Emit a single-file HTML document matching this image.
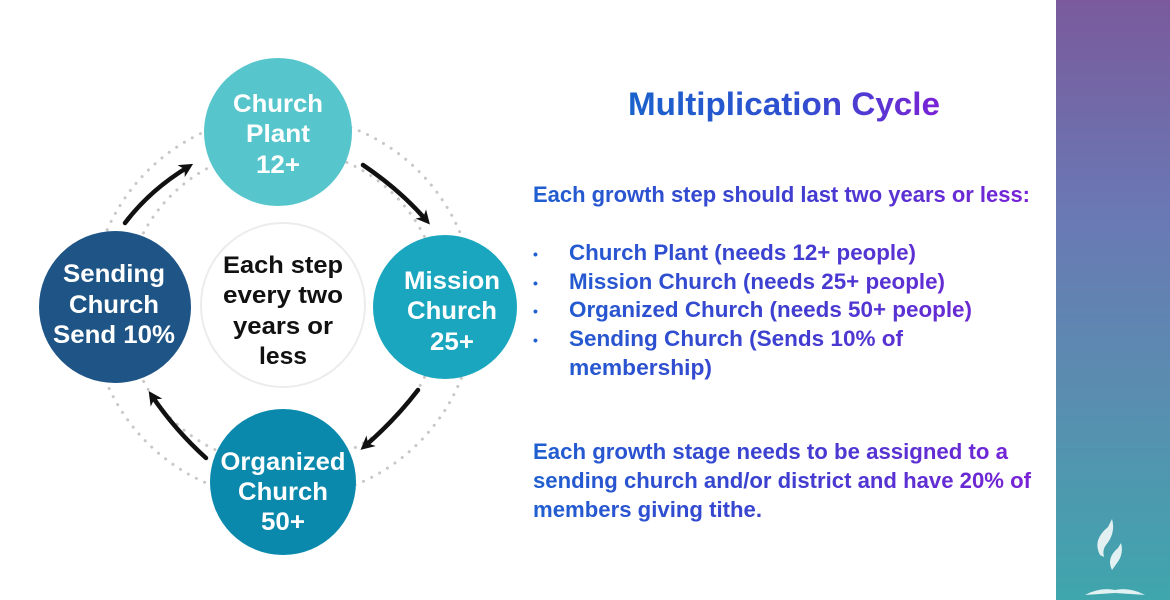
<!DOCTYPE html>
<html><head><meta charset="utf-8"><style>
html,body{margin:0;padding:0;background:#fff;width:1170px;height:600px;overflow:hidden}
svg{display:block}
text{font-family:"Liberation Sans",Arial,sans-serif;font-weight:bold}
</style></head><body>
<svg width="1170" height="600" viewBox="0 0 1170 600" xmlns="http://www.w3.org/2000/svg">
<defs>
<linearGradient id="panel" x1="0" y1="0" x2="0" y2="1">
<stop offset="0" stop-color="#7a5a9c"/><stop offset="0.35" stop-color="#6a78b4"/><stop offset="0.65" stop-color="#5a8db0"/><stop offset="1" stop-color="#3fa6ad"/>
</linearGradient>
<linearGradient id="tg" gradientUnits="userSpaceOnUse" x1="530" y1="0" x2="1035" y2="0">
<stop offset="0" stop-color="#1f60d0"/><stop offset="0.5" stop-color="#3e3fd0"/><stop offset="1" stop-color="#7a22d6"/>
</linearGradient>
<linearGradient id="tt" gradientUnits="userSpaceOnUse" x1="628" y1="0" x2="940" y2="0">
<stop offset="0" stop-color="#1a62cc"/><stop offset="0.55" stop-color="#2f4fd0"/><stop offset="1" stop-color="#7a22d6"/>
</linearGradient>
<marker id="ah" markerWidth="14" markerHeight="14" refX="8" refY="7" orient="auto" markerUnits="userSpaceOnUse">
<path d="M0,0 L14,7 L0,14 L4,7 z" fill="#111"/>
</marker>
</defs>
<rect x="1056" y="0" width="114" height="600" fill="url(#panel)"/>
<g fill="#fff" opacity="0.85">
<path d="M1100,555 q-8,-15 8,-28 l4,-8 q4,14 -6,26 q-4,5 -2,12 z"/>
<path d="M1112,570 q-6,-12 6,-22 l3,-5 q3,11 -4,20 z"/>
<path d="M1085,595 q15,-8 30,-5 q15,-3 30,5 l-30,-2 z"/>
</g>
<circle cx="283" cy="307" r="192" fill="none" stroke="#c8c8c8" stroke-width="3" stroke-dasharray="0.1 9" stroke-linecap="round"/>
<circle cx="283" cy="307" r="158" fill="none" stroke="#c8c8c8" stroke-width="3" stroke-dasharray="0.1 9" stroke-linecap="round"/>
<circle cx="283" cy="305" r="82" fill="#fff" stroke="#ececec" stroke-width="2"/>
<circle cx="278" cy="132" r="74" fill="#56c6cc"/>
<circle cx="445" cy="307" r="72" fill="#1aa6be"/>
<circle cx="283" cy="482" r="73" fill="#0a89ad"/>
<circle cx="115" cy="307" r="76" fill="#1e5586"/>
<g fill="none" stroke="#111" stroke-width="4.5" stroke-linecap="round">
<path d="M125,223 Q150,190 188,167" marker-end="url(#ah)"/>
<path d="M363,165 Q400,190 426,220" marker-end="url(#ah)"/>
<path d="M418,390 Q395,420 365,446" marker-end="url(#ah)"/>
<path d="M206,458 Q175,430 152,396" marker-end="url(#ah)"/>
</g>
<g fill="#fff" font-size="25" text-anchor="middle" lengthAdjust="spacingAndGlyphs">
<text x="278" y="112" textLength="90" lengthAdjust="spacingAndGlyphs">Church</text>
<text x="278" y="142" textLength="64" lengthAdjust="spacingAndGlyphs">Plant</text>
<text x="278" y="173" textLength="44" lengthAdjust="spacingAndGlyphs">12+</text>
<text x="452" y="289" textLength="96" lengthAdjust="spacingAndGlyphs">Mission</text>
<text x="452" y="319" textLength="90" lengthAdjust="spacingAndGlyphs">Church</text>
<text x="452" y="350" textLength="44" lengthAdjust="spacingAndGlyphs">25+</text>
<text x="283" y="470" textLength="125" lengthAdjust="spacingAndGlyphs">Organized</text>
<text x="283" y="500" textLength="90" lengthAdjust="spacingAndGlyphs">Church</text>
<text x="283" y="530" textLength="44" lengthAdjust="spacingAndGlyphs">50+</text>
<text x="114" y="282" textLength="102" lengthAdjust="spacingAndGlyphs">Sending</text>
<text x="114" y="313" textLength="90" lengthAdjust="spacingAndGlyphs">Church</text>
<text x="114" y="343" textLength="122" lengthAdjust="spacingAndGlyphs">Send 10%</text>
</g>
<g fill="#111" font-size="24" text-anchor="middle">
<text x="283" y="273" textLength="120" lengthAdjust="spacingAndGlyphs">Each step</text>
<text x="283" y="303" textLength="120" lengthAdjust="spacingAndGlyphs">every two</text>
<text x="283" y="334" textLength="100" lengthAdjust="spacingAndGlyphs">years or</text>
<text x="283" y="364" textLength="48" lengthAdjust="spacingAndGlyphs">less</text>
</g>
<text x="628" y="115" font-size="32" fill="url(#tt)" textLength="312" lengthAdjust="spacingAndGlyphs">Multiplication Cycle</text>
<g font-size="22" fill="url(#tg)">
<text x="533" y="202" textLength="497" lengthAdjust="spacingAndGlyphs">Each growth step should last two years or less:</text>
<text x="533" y="259" font-size="14">•</text><text x="569" y="260" textLength="347" lengthAdjust="spacingAndGlyphs">Church Plant (needs 12+ people)</text>
<text x="533" y="288" font-size="14">•</text><text x="569" y="289" textLength="376" lengthAdjust="spacingAndGlyphs">Mission Church (needs 25+ people)</text>
<text x="533" y="316" font-size="14">•</text><text x="569" y="317" textLength="403" lengthAdjust="spacingAndGlyphs">Organized Church (needs 50+ people)</text>
<text x="533" y="345" font-size="14">•</text><text x="569" y="346" textLength="334" lengthAdjust="spacingAndGlyphs">Sending Church (Sends 10% of</text>
<text x="569" y="375" textLength="143" lengthAdjust="spacingAndGlyphs">membership)</text>
<text x="533" y="459" textLength="475" lengthAdjust="spacingAndGlyphs">Each growth stage needs to be assigned to a</text>
<text x="533" y="488" textLength="498" lengthAdjust="spacingAndGlyphs">sending church and/or district and have 20% of</text>
<text x="533" y="517" textLength="229" lengthAdjust="spacingAndGlyphs">members giving tithe.</text>
</g>
</svg>
</body></html>
